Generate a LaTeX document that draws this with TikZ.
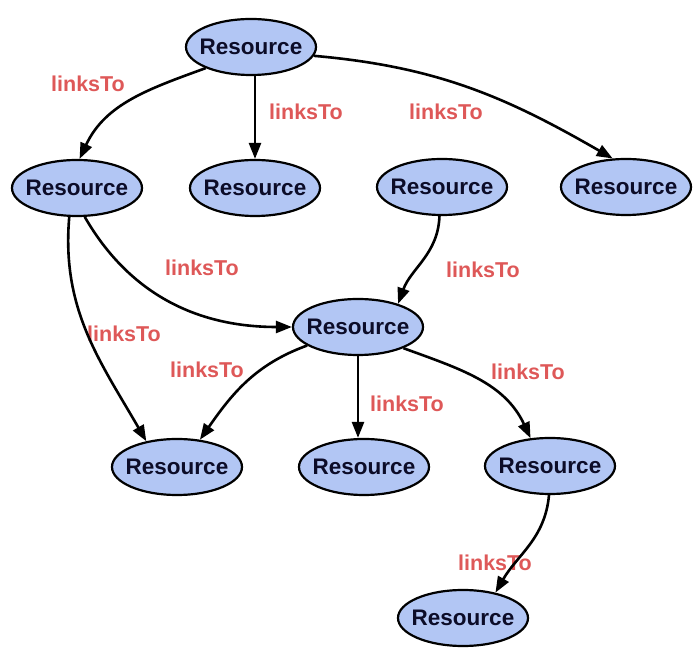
\documentclass[tikz,border=0pt]{standalone}
\usepackage{fontspec}
\setmainfont{Liberation Sans}
\usepackage{tikz}
\usetikzlibrary{arrows.meta}
\usetikzlibrary{shapes.geometric}
\definecolor{resfill}{RGB}{178,198,244}
\definecolor{restext}{RGB}{12,12,40}
\definecolor{linkred}{RGB}{222,88,88}
\tikzset{res/.style = {draw, ellipse, line width = 2.2pt, fill = resfill, text = restext,
    minimum width = 130, minimum height = 56, inner xsep = -9pt, inner ysep = 0,
    font = \fontsize{22.5}{22.5}\selectfont\bfseries}}
\tikzset{lbl/.style = {text = linkred, inner sep = 0, font = \fontsize{21.5}{21.5}\selectfont\bfseries}}
\tikzset{link/.style = {line width = 2.6pt, -{Triangle[length = 16pt, width = 12pt]}}}

\begin{document}
\begin{tikzpicture}[x = 1pt, y = 1pt]
      \useasboundingbox (0, 0) rectangle (699, 648);
      \node [res] (top) at (251, 601) {Resource};
      \node [res] (r2a) at (77, 460) {Resource};
      \node [res] (r2b) at (255, 460) {Resource};
      \node [res] (r2c) at (442, 461) {Resource};
      \node [res] (r2d) at (626, 461) {Resource};
      \node [res] (mid) at (358, 321) {Resource};
      \node [res] (r4a) at (177, 181) {Resource};
      \node [res] (r4b) at (364, 181) {Resource};
      \node [res] (r4c) at (550, 182) {Resource};
      \node [res] (bot) at (463, 30) {Resource};
      \node [lbl] (l1) at (88, 564) {linksTo};
      \node [lbl] (l2) at (306, 536) {linksTo};
      \node [lbl] (l3) at (446, 536) {linksTo};
      \node [lbl] (l4) at (202, 380) {linksTo};
      \node [lbl] (l5) at (483, 378) {linksTo};
      \node [lbl] (l6) at (124, 314) {linksTo};
      \node [lbl] (l7) at (207, 278) {linksTo};
      \node [lbl] (l8) at (407, 244) {linksTo};
      \node [lbl] (l9) at (528, 276) {linksTo};
      \node [lbl] (l10) at (495, 85) {linksTo};
      \draw [link] (top.205) to [out = 200, in = 65] (r2a.85);
      \draw [link] (top.south -| r2b.north) -- (r2b);
      \draw [link] (top.-8) to [out = -5, in = 150] (r2d.115);
      \draw [link] (r2a.-75) to [out = -60, in = 180] (mid.180);
      \draw [link] (r2a.-105) to [out = -95, in = 120] (r4a.140);
      \draw [link] (r2c.-95) to [out = -92, in = 70] (mid.30);
      \draw [link] (mid.200) to [out = 200, in = 55] (r4a.50);
      \draw [link] (mid.south) -- (mid.south |- r4b.north);
      \draw [link] (mid.-25) to [out = -20, in = 115] (r4c.125);
      \draw [link] (r4c.-92) to [out = -95, in = 60] (bot.38);
    \end{tikzpicture}
\end{document}
